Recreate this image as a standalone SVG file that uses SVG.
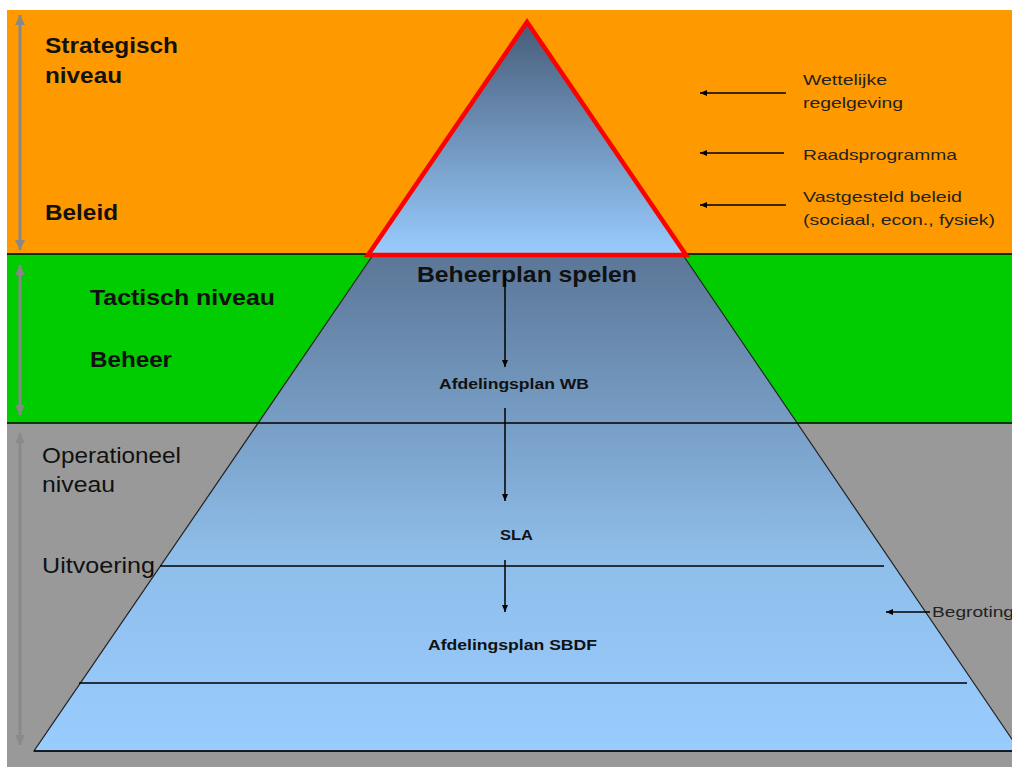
<svg xmlns="http://www.w3.org/2000/svg" width="1012" height="767" viewBox="0 0 1012 767">
<defs>
<linearGradient id="gTri" gradientUnits="userSpaceOnUse" x1="0" y1="22" x2="0" y2="255">
<stop offset="0" stop-color="#475c78"/>
<stop offset="1" stop-color="#99ccff"/>
</linearGradient>
<linearGradient id="gTrap" gradientUnits="userSpaceOnUse" x1="0" y1="255" x2="0" y2="751">
<stop offset="0" stop-color="#5b7697"/>
<stop offset="0.6" stop-color="#8ebde9"/>
<stop offset="1" stop-color="#99ccff"/>
</linearGradient>
<marker id="ah" markerWidth="8" markerHeight="8" refX="7" refY="4" orient="auto" markerUnits="userSpaceOnUse">
<path d="M0,1 L7,4 L0,7 z" fill="#000"/>
</marker>
<marker id="gh" markerWidth="12" markerHeight="12" refX="10" refY="5" orient="auto" markerUnits="userSpaceOnUse">
<path d="M0,0 L10,5 L0,10 z" fill="#888"/>
</marker>
<marker id="gh2" markerWidth="12" markerHeight="12" refX="10" refY="5" orient="auto" markerUnits="userSpaceOnUse">
<path d="M0,0 L10,5 L0,10 z" fill="#8a8a8a"/>
</marker>
<marker id="gs" markerWidth="12" markerHeight="12" refX="0" refY="5" orient="auto" markerUnits="userSpaceOnUse">
<path d="M10,0 L0,5 L10,10 z" fill="#888"/>
</marker>
<marker id="gs2" markerWidth="12" markerHeight="12" refX="0" refY="5" orient="auto" markerUnits="userSpaceOnUse">
<path d="M10,0 L0,5 L10,10 z" fill="#8a8a8a"/>
</marker>
</defs>
<style>
.lbl{font-family:"Liberation Sans",Arial,sans-serif;font-size:22px;font-weight:bold;fill:#111;}
.lbr{font-family:"Liberation Sans",Arial,sans-serif;font-size:22px;fill:#111;}
.sm{font-family:"Liberation Sans",Arial,sans-serif;font-size:14px;font-weight:bold;fill:#111;}
.rt{font-family:"Liberation Sans",Arial,sans-serif;font-size:15px;fill:#222;}
.ln{stroke:#000;stroke-width:1.5;fill:none;}
.arr{stroke:#000;stroke-width:1.5;fill:none;marker-end:url(#ah);}
.ga{stroke:#888;stroke-width:3;fill:none;marker-end:url(#gh);marker-start:url(#gs);}
.ga2{stroke:#8a8a8a;stroke-width:3;fill:none;marker-end:url(#gh2);marker-start:url(#gs2);}
</style>
<rect x="0" y="0" width="1012" height="767" fill="#ffffff"/>
<g id="bands">
<rect x="7" y="10" width="1005" height="244" fill="#ff9900"/>
<rect x="7" y="254" width="1005" height="169" fill="#00cc00"/>
<rect x="7" y="423" width="1005" height="344" fill="#999999"/>
</g>
<g id="pyramid">
<polygon points="373,255 683,255 1020,751 34,751" fill="url(#gTrap)" stroke="#222" stroke-width="1.2"/>
</g>
<g id="band-lines">
<line class="ln" x1="7" y1="254" x2="1012" y2="254"/>
<line class="ln" x1="7" y1="423" x2="1012" y2="423"/>
<line class="ln" x1="160" y1="566" x2="884" y2="566"/>
<line class="ln" x1="79" y1="683" x2="967" y2="683"/>
<line class="ln" x1="34" y1="751" x2="1012" y2="751"/>
</g>
<g id="top-triangle">
<polygon points="527,22 686,255 368,255" fill="url(#gTri)" stroke="#ff0000" stroke-width="4.5" stroke-linejoin="miter"/>
</g>
<g id="level-strategisch">
<text class="lbl" x="45" y="53" textLength="133" lengthAdjust="spacingAndGlyphs">Strategisch</text>
<text class="lbl" x="45" y="83" textLength="77" lengthAdjust="spacingAndGlyphs">niveau</text>
<text class="lbl" x="45" y="220" textLength="73" lengthAdjust="spacingAndGlyphs">Beleid</text>
</g>
<g id="level-tactisch">
<text class="lbl" x="90" y="305" textLength="185" lengthAdjust="spacingAndGlyphs">Tactisch niveau</text>
<text class="lbl" x="90" y="367" textLength="82" lengthAdjust="spacingAndGlyphs">Beheer</text>
</g>
<g id="level-operationeel">
<text class="lbr" x="42" y="463" textLength="139" lengthAdjust="spacingAndGlyphs">Operationeel</text>
<text class="lbr" x="42" y="492" textLength="73" lengthAdjust="spacingAndGlyphs">niveau</text>
<text class="lbr" x="42" y="573" textLength="113" lengthAdjust="spacingAndGlyphs">Uitvoering</text>
</g>
<g id="node-beheerplan">
<text class="lbl" x="417" y="282" textLength="220" lengthAdjust="spacingAndGlyphs">Beheerplan spelen</text>
</g>
<g id="node-afdelingsplan-wb">
<text class="sm" x="439" y="389" textLength="150" lengthAdjust="spacingAndGlyphs">Afdelingsplan WB</text>
</g>
<g id="node-sla">
<text class="sm" x="500" y="540" textLength="33" lengthAdjust="spacingAndGlyphs">SLA</text>
</g>
<g id="node-afdelingsplan-sbdf">
<text class="sm" x="428" y="650" textLength="169" lengthAdjust="spacingAndGlyphs">Afdelingsplan SBDF</text>
</g>
<g id="inputs">
<text class="rt" x="803" y="85" textLength="84" lengthAdjust="spacingAndGlyphs">Wettelijke</text>
<text class="rt" x="803" y="108" textLength="100" lengthAdjust="spacingAndGlyphs">regelgeving</text>
<text class="rt" x="803" y="160" textLength="154" lengthAdjust="spacingAndGlyphs">Raadsprogramma</text>
<text class="rt" x="803" y="202" textLength="159" lengthAdjust="spacingAndGlyphs">Vastgesteld beleid</text>
<text class="rt" x="803" y="225" textLength="192" lengthAdjust="spacingAndGlyphs">(sociaal, econ., fysiek)</text>
<text class="rt" x="932" y="617" textLength="82" lengthAdjust="spacingAndGlyphs">Begroting</text>
</g>
<g id="connectors">
<line class="arr" x1="786" y1="93" x2="700" y2="93"/>
<line class="arr" x1="784" y1="153" x2="700" y2="153"/>
<line class="arr" x1="786" y1="205" x2="700" y2="205"/>
<line class="arr" x1="930" y1="612" x2="886" y2="612"/>
<line class="arr" x1="505" y1="274" x2="505" y2="367"/>
<line class="arr" x1="505" y1="408" x2="505" y2="501"/>
<line class="arr" x1="505" y1="560" x2="505" y2="612"/>
<line class="ga" x1="20" y1="15" x2="20" y2="250"/>
<line class="ga" x1="20" y1="265" x2="20" y2="415"/>
<line class="ga2" x1="20" y1="433" x2="20" y2="745"/>
</g>
</svg>
